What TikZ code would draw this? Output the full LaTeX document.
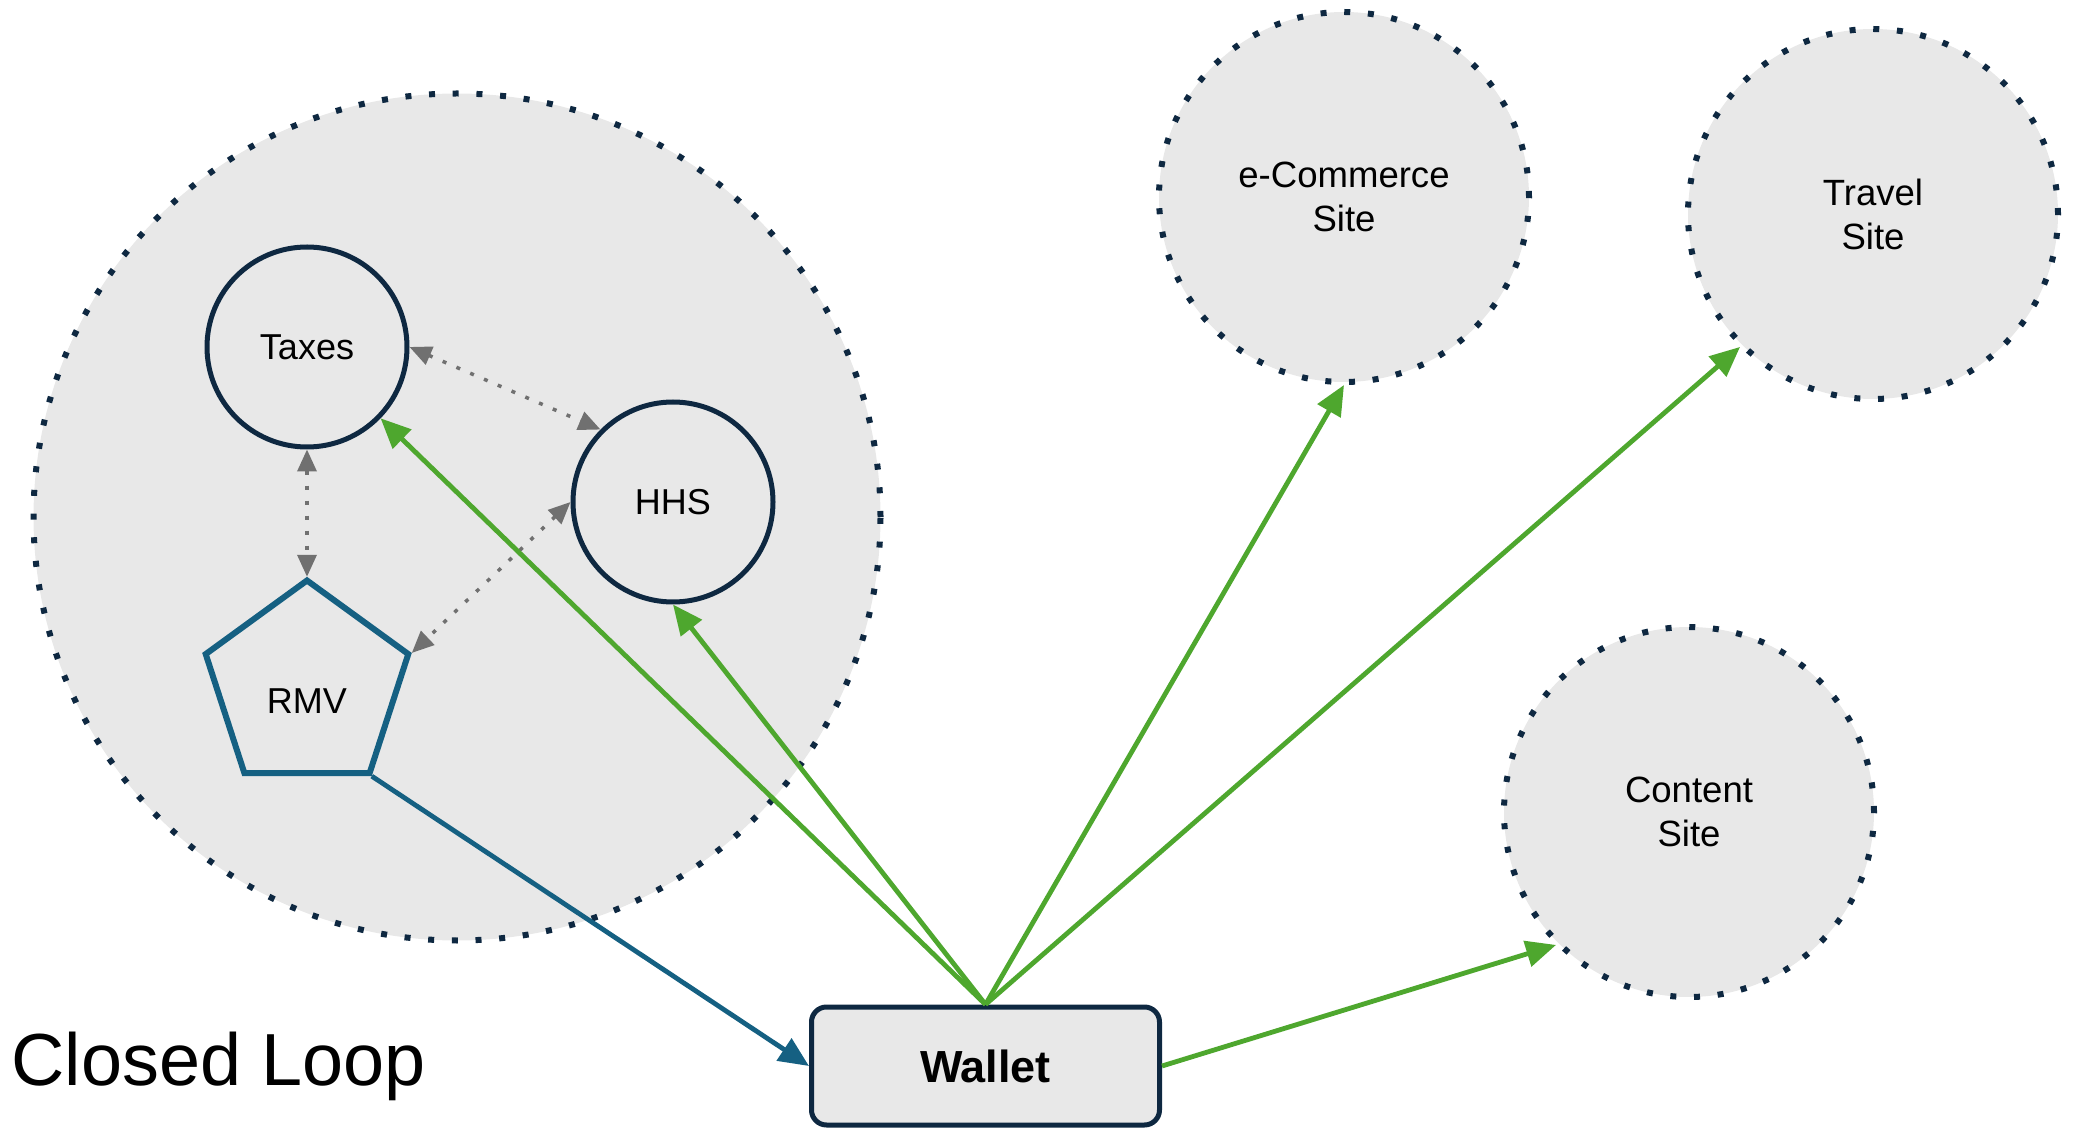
\documentclass[tikz,border=0pt]{standalone}
\usepackage{fontspec}
\setmainfont{Liberation Sans}
\usetikzlibrary{arrows.meta,shapes.geometric}

\definecolor{navy}{HTML}{0E2841}
\definecolor{leaf}{HTML}{4EA72E}
\definecolor{petrol}{HTML}{156082}
\definecolor{paper}{HTML}{E8E8E8}
\definecolor{linkgray}{HTML}{707070}

\tikzset{
    agency/.style={circle, draw=navy, line width=0.05cm, fill=paper, minimum size=2cm, inner sep=0pt, font=\fontsize{10.25}{12.3}\selectfont},
    site/.style={circle, draw=navy, line width=0.06cm, dash pattern=on 0.06cm off 0.177cm, fill=paper, minimum size=3.7cm, inner sep=0pt, align=center, font=\fontsize{10.4}{12.5}\selectfont},
    push/.style={-{Triangle[length=0.3cm,width=0.26cm]}, leaf, line width=0.048cm},
    feed/.style={-{Triangle[length=0.3cm,width=0.26cm]}, petrol, line width=0.048cm},
    link/.style={{Triangle[length=0.22cm,width=0.19cm]}-{Triangle[length=0.22cm,width=0.19cm]}, linkgray, line width=0.035cm, dash pattern=on 0.04cm off 0.11cm}
}

\begin{document}
\begin{tikzpicture}
    \useasboundingbox (0,0) rectangle (20.75,11.31);
    \node [circle, draw=navy, line width=0.06cm, dash pattern=on 0.06cm off 0.177cm, fill=paper, minimum size=8.47cm] (loop) at (4.57,6.14) {};
    \node [agency] (taxes) at (3.07,7.84) {Taxes};
    \node [agency] (hhs) at (6.73,6.29) {HHS};
    \node [regular polygon, regular polygon sides=5, draw=petrol, line width=0.06cm, fill=paper, minimum size=2.13cm, inner sep=0pt, text height=0.54cm, text depth=0pt, font=\fontsize{10.25}{12.3}\selectfont] (rmv) at (3.07,4.44) {RMV};
    \node [draw=navy, line width=0.05cm, fill=paper, rounded corners=0.15cm, minimum width=3.48cm, minimum height=1.18cm, font=\fontsize{12.8}{15}\selectfont\bfseries] (wallet) at (9.855,0.65) {Wallet};
    \node [site] (ecom) at (13.44,9.34) {e-Commerce\\Site};
    \node [site] (travel) at (18.73,9.17) {Travel\\Site};
    \node [site] (content) at (16.89,3.19) {Content\\Site};
    \node [anchor=base west, inner sep=0pt, font=\fontsize{21}{25}\selectfont] (title) at (0.11,0.46) {Closed Loop};

    \draw [link] (taxes.east) -- (hhs.north west);
    \draw [link] (taxes.south) -- (rmv.corner 1);
    \draw [link] (hhs.west) -- (rmv.corner 5);
    \draw [feed] (rmv.corner 4) -- (wallet.west);
    \draw [push] (wallet.north) -- (taxes);
    \draw [push] (wallet.north) -- (hhs.south);
    \draw [push] (wallet.north) -- (ecom.south);
    \draw [push] (wallet.north) -- (travel.south west);
    \draw [push] (wallet.east) -- (content.south west);
\end{tikzpicture}
\end{document}
